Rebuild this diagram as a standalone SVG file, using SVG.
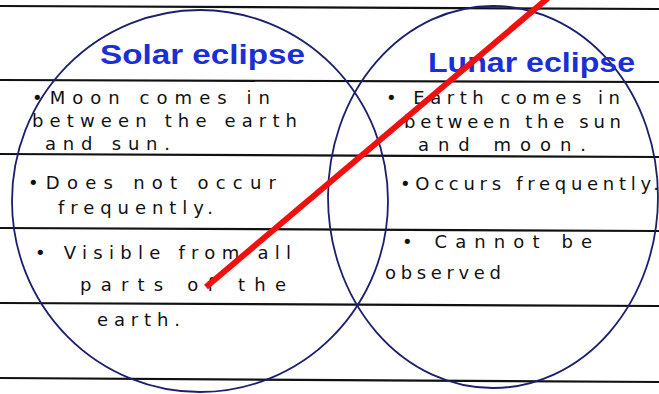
<svg xmlns="http://www.w3.org/2000/svg" width="659" height="394" viewBox="0 0 659 394">
<style>
.rule{stroke:#111;stroke-width:2.2;fill:none}
.circ{stroke:#1c1f6e;stroke-width:1.8;fill:none}
.title{font-family:"Liberation Sans",Arial,sans-serif;font-size:28px;font-weight:bold;fill:#1a2fd6}
.t{font-family:"DejaVu Sans","Liberation Sans",sans-serif;font-size:18px;fill:#111}
</style>
<rect width="659" height="394" fill="#fff"/>
<g id="paper-lines">
<line class="rule" x1="0" y1="6" x2="659" y2="9"/>
<line class="rule" x1="0" y1="80" x2="659" y2="82"/>
<line class="rule" x1="0" y1="154" x2="659" y2="157"/>
<line class="rule" x1="0" y1="228" x2="659" y2="231"/>
<line class="rule" x1="0" y1="303" x2="659" y2="306"/>
<line class="rule" x1="0" y1="378" x2="659" y2="382"/>
</g>
<g id="solar-eclipse">
<ellipse class="circ" cx="200" cy="201" rx="188" ry="191"/>
<text class="title" x="100" y="64" textLength="205" lengthAdjust="spacingAndGlyphs">Solar eclipse</text>
<text class="t" x="32" y="104" textLength="238" lengthAdjust="spacing">•Moon comes in</text>
<text class="t" x="32" y="127" textLength="265" lengthAdjust="spacing">between the earth</text>
<text class="t" x="45" y="150" textLength="125" lengthAdjust="spacing">and sun.</text>
<text class="t" x="28" y="189" textLength="248" lengthAdjust="spacing">•Does not occur</text>
<text class="t" x="58" y="214" textLength="155" lengthAdjust="spacing">frequently.</text>
<text class="t" x="35" y="259" textLength="256" lengthAdjust="spacing">• Visible from all</text>
<text class="t" x="80" y="291" textLength="206" lengthAdjust="spacing">parts of  the</text>
<text class="t" x="97" y="326" textLength="83" lengthAdjust="spacing">earth.</text>
</g>
<g id="lunar-eclipse">
<ellipse class="circ" cx="493" cy="197" rx="165" ry="191"/>
<text class="title" x="428" y="72" textLength="207" lengthAdjust="spacingAndGlyphs">Lunar eclipse</text>
<text class="t" x="386" y="104" textLength="234" lengthAdjust="spacing">• Earth comes in</text>
<text class="t" x="404" y="128" textLength="217" lengthAdjust="spacing">between the sun</text>
<text class="t" x="418" y="151" textLength="168" lengthAdjust="spacing">and moon.</text>
<text class="t" x="400" y="190" textLength="259" lengthAdjust="spacing">•Occurs frequently.</text>
<text class="t" x="402" y="248" textLength="190" lengthAdjust="spacing">• Cannot   be</text>
<text class="t" x="385" y="279" textLength="116" lengthAdjust="spacing">observed</text>
</g>
<g id="connectors">
<line x1="206" y1="287" x2="548" y2="-2" stroke="#f01010" stroke-width="6"/>
</g>
</svg>
